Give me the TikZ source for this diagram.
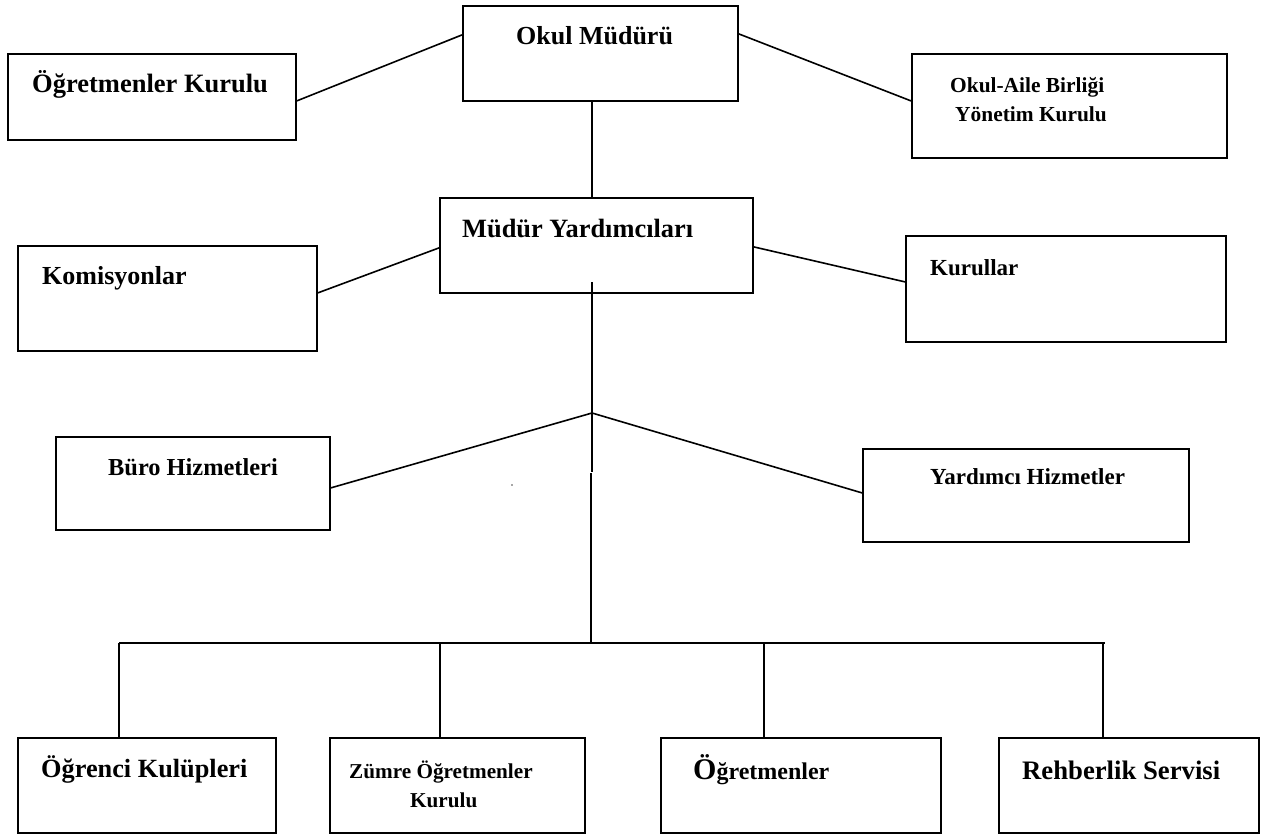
\documentclass[tikz,border=0pt]{standalone}
\usepackage{fontspec}
\setmainfont{Liberation Serif}
\begin{document}
\begin{tikzpicture}[x=1pt,y=-1pt,
  box/.style={draw=black,line width=1.8pt,inner sep=0pt,anchor=north west,fill=white},
  lbl/.style={inner sep=0pt,anchor=base west,font=\bfseries},
  conn/.style={line width=1.6pt,black}]
\useasboundingbox (0,0) rectangle (1265,834);
% boxes
\node[box,minimum width=275pt,minimum height=95pt]  (om)  at (462,5)   {};
\node[box,minimum width=288pt,minimum height=86pt]  (ok)  at (7,53)    {};
\node[box,minimum width=315pt,minimum height=104pt] (oab) at (911,53)  {};
\node[box,minimum width=313pt,minimum height=95pt]  (my)  at (439,197) {};
\node[box,minimum width=299pt,minimum height=105pt] (kom) at (17,245)  {};
\node[box,minimum width=320pt,minimum height=106pt] (kur) at (905,235) {};
\node[box,minimum width=274pt,minimum height=93pt]  (buro) at (55,436) {};
\node[box,minimum width=326pt,minimum height=93pt]  (yh)  at (862,448) {};
\node[box,minimum width=258pt,minimum height=95pt]  (ogk) at (17,737)  {};
\node[box,minimum width=255pt,minimum height=95pt]  (zok) at (329,737) {};
\node[box,minimum width=280pt,minimum height=95pt]  (ogr) at (660,737) {};
\node[box,minimum width=260pt,minimum height=95pt]  (rs)  at (998,737) {};
% labels
\node[lbl,font=\bfseries\fontsize{26}{30}\selectfont] (tom) at (516,45) {Okul Müdürü};
\node[lbl,font=\bfseries\fontsize{26.5}{30}\selectfont] (tok) at (32,93) {Öğretmenler Kurulu};
\node[lbl,font=\bfseries\fontsize{21.4}{26}\selectfont] (toab1) at (950,93) {Okul-Aile Birliği};
\node[lbl,font=\bfseries\fontsize{21.4}{26}\selectfont] (toab2) at (955,122) {Yönetim Kurulu};
\node[lbl,font=\bfseries\fontsize{26.4}{30}\selectfont] (tmy) at (462,237) {Müdür Yardımcıları};
\node[lbl,font=\bfseries\fontsize{26}{30}\selectfont] (tkom) at (42,284) {Komisyonlar};
\node[lbl,font=\bfseries\fontsize{23}{28}\selectfont] (tkur) at (930,275) {Kurullar};
\node[lbl,font=\bfseries\fontsize{24.4}{28}\selectfont] (tburo) at (108,475) {Büro Hizmetleri};
\node[lbl,font=\bfseries\fontsize{23}{27}\selectfont] (tyh) at (930,484) {Yardımcı Hizmetler};
\node[lbl,font=\bfseries\fontsize{26.3}{30}\selectfont] (togk) at (41,777) {Öğrenci Kulüpleri};
\node[lbl,font=\bfseries\fontsize{21.2}{26}\selectfont] (tzok1) at (349,778) {Zümre Öğretmenler};
\node[lbl,font=\bfseries\fontsize{21.2}{26}\selectfont] (tzok2) at (410,807) {Kurulu};
\node[lbl,font=\bfseries\fontsize{24}{28}\selectfont] (togr) at (693,779) {{\fontsize{30}{30}\selectfont Ö}ğretmenler};
\node[lbl,font=\bfseries\fontsize{26.7}{30}\selectfont] (trs) at (1022,779) {Rehberlik Servisi};
% junction coordinates
\coordinate (stem) at (592,282);
\coordinate (j1) at (592,413);
\coordinate (j2) at (592,472);
\coordinate (j3) at (591,473);
\coordinate (busc) at (591,643);
\coordinate (busl) at (119,643);
\coordinate (busr) at (1105,643);
% connectors
\draw[conn] ([yshift=-4pt]ok.east) -- ([yshift=18.5pt]om.west);
\draw[conn] ([yshift=19.5pt]om.east) -- ([yshift=5pt]oab.west);
\draw[conn] (om.south -| stem) -- (my.north -| stem);
\draw[conn] ([yshift=5.5pt]kom.east) -- ([yshift=-2.5pt]my.west);
\draw[conn] ([yshift=-1.5pt]my.east) -- ([yshift=7pt]kur.west);
\draw[conn] (stem) -- (j1) -- (j2);
\draw[conn] (j3) -- (busc);
\draw[conn] (j1) -- ([yshift=-4.5pt]buro.east);
\draw[conn] (j1) -- ([yshift=2.5pt]yh.west);
\draw[conn] (busl) -- (busr);
\draw[conn] (busl) -- (ogk.north -| busl);
\draw[conn] (busl -| 440,0) -- (zok.north -| 440,0);
\draw[conn] (busl -| 764,0) -- (ogr.north -| 764,0);
\draw[conn] (busl -| 1103,0) -- (rs.north -| 1103,0);
\fill[black!70] (512,485) circle (0.8pt);
\end{tikzpicture}
\end{document}
